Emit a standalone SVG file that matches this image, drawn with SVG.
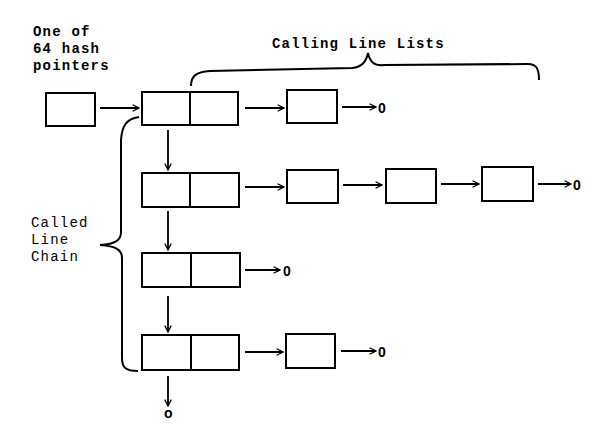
<svg xmlns="http://www.w3.org/2000/svg" width="612" height="448" viewBox="0 0 612 448">
<style>
.box{fill:#fff;stroke:#000;stroke-width:2}
.ln{fill:none;stroke:#000;stroke-width:2}
.ar{fill:none;stroke:#000;stroke-width:1.8;marker-end:url(#ah)}
.t{font-family:"Liberation Mono","Courier New",monospace;font-size:14px;letter-spacing:1.2px;font-weight:bold;fill:#000}
.n{font-weight:normal}
.z{font-family:"Liberation Sans",Arial,sans-serif;font-size:14px;font-weight:bold;fill:#000}
</style>
<defs>
<marker id="ah" viewBox="0 0 10 10" refX="9" refY="5" markerWidth="8" markerHeight="8" markerUnits="userSpaceOnUse" orient="auto">
<polyline points="1,1 9,5 1,9" fill="none" stroke="#000" stroke-width="1.6"/>
</marker>
</defs>
<rect width="612" height="448" fill="#fff"/>
<text class="t" x="33" y="36">One of</text>
<text class="t" x="33" y="53">64 hash</text>
<text class="t" x="33" y="70">pointers</text>
<text class="t" x="272" y="48">Calling Line Lists</text>
<text class="t n" x="31" y="227">Called</text>
<text class="t n" x="31" y="244">Line</text>
<text class="t n" x="31" y="261">Chain</text>
<g id="hash"><rect class="box" x="46" y="93" width="49" height="33"/></g>
<g id="c1"><rect class="box" x="142" y="92" width="96" height="33"/><line class="ln" x1="190" y1="92" x2="190" y2="125"/></g>
<g id="c2"><rect class="box" x="142" y="173" width="97" height="34"/><line class="ln" x1="190" y1="173" x2="190" y2="207"/></g>
<g id="c3"><rect class="box" x="142" y="253" width="98" height="34"/><line class="ln" x1="191" y1="253" x2="191" y2="287"/></g>
<g id="c4"><rect class="box" x="142" y="335" width="97" height="35"/><line class="ln" x1="191" y1="335" x2="191" y2="370"/></g>
<g id="l1a"><rect class="box" x="287" y="90" width="50" height="33"/></g>
<g id="l2a"><rect class="box" x="287" y="170" width="51" height="33"/></g>
<g id="l2b"><rect class="box" x="386" y="169" width="50" height="34"/></g>
<g id="l2c"><rect class="box" x="482" y="167" width="51" height="34"/></g>
<g id="l4a"><rect class="box" x="286" y="334" width="49" height="34"/></g>
<g id="connectors">
<line class="ar" x1="100" y1="108" x2="139" y2="108"/>
<line class="ar" x1="245" y1="108" x2="284" y2="108"/>
<line class="ar" x1="342" y1="107" x2="376" y2="107"/>
<line class="ar" x1="168" y1="130" x2="168" y2="170"/>
<line class="ar" x1="245" y1="187" x2="284" y2="187"/>
<line class="ar" x1="343" y1="185" x2="382" y2="185"/>
<line class="ar" x1="441" y1="184" x2="479" y2="184"/>
<line class="ar" x1="538" y1="184" x2="571" y2="184"/>
<line class="ar" x1="168" y1="211" x2="168" y2="250"/>
<line class="ar" x1="245" y1="270" x2="280" y2="270"/>
<line class="ar" x1="168" y1="296" x2="168" y2="332"/>
<line class="ar" x1="245" y1="352" x2="283" y2="352"/>
<line class="ar" x1="341" y1="351" x2="376" y2="351"/>
<line class="ar" x1="168" y1="376" x2="168" y2="406"/>
<path class="ln" d="M139,117 C126,119 122,126 121,140 L121,232 C121,240 116,244 100,245 C116,246 122,250 122,258 L122,358 C122,368 126,371 138,371"/>
<path class="ln" d="M191,86 C191,76 196,72 210,71 L352,68 C362,67 366,62 368,53 C370,62 374,66 384,65 L528,64 C536,64 539,68 539,80"/>
</g>
<text class="z" x="378" y="113">0</text>
<text class="z" x="573" y="190">0</text>
<text class="z" x="283" y="276">0</text>
<text class="z" x="378" y="357">0</text>
<text class="z" x="164" y="418">o</text>
</svg>
